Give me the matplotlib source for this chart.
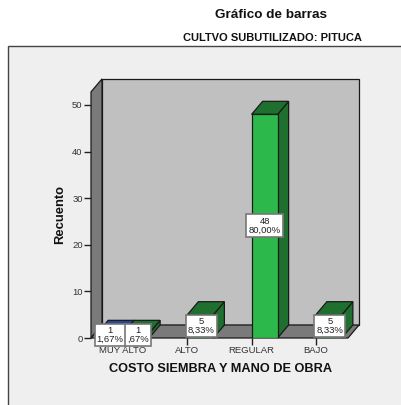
import matplotlib
matplotlib.use("Agg")
import matplotlib.pyplot as plt
from matplotlib.patches import Polygon, Rectangle

plt.rcParams["font.family"] = ["Liberation Sans", "DejaVu Sans"]

# DATA

categorias = ["MUY ALTO", "ALTO", "REGULAR", "BAJO"]
serie_a = [1, None, None, None]
serie_b = [1, 5, 48, 5]
etiquetas_a = ["1\n1,67%", None, None, None]
etiquetas_b = ["1\n,67%", "5\n8,33%", "48\n80,00%", "5\n8,33%"]
ticks_y = [0, 10, 20, 30, 40, 50]

W, H = 402, 405
fig = plt.figure(figsize=(W / 100, H / 100), dpi=100, facecolor="white")


def px(x0, y0, x1, y1):
    return [x0 / W, 1 - y1 / H, (x1 - x0) / W, (y1 - y0) / H]


# marco gris de fondo
bg = fig.add_axes([0, 0, 1, 1])
bg.set_xlim(0, W)
bg.set_ylim(H, 0)
bg.axis("off")
bg.add_patch(Rectangle((8, 46), W, H, fc="#efefef", ec="#444444", lw=1))

# ejes: plano frontal
ax = fig.add_axes(px(91, 105, 348, 338))
ax.set_xlim(-0.5, 3.5)
ax.set_ylim(0, 50)
ax.patch.set_alpha(0)
for s in ax.spines.values():
    s.set_visible(False)

dx = 11 / 64.25
dy = 13 / 4.66
ancho = 26 / 64.25
techo = 55.6


def poly(puntos, color, z=2):
    ax.add_patch(Polygon(puntos, closed=True, fc=color, ec="#1a1a1a", lw=0.9, zorder=z, clip_on=False))


# paredes y suelo
poly([(-0.5 + dx, dy), (3.5 + dx, dy), (3.5 + dx, techo), (-0.5 + dx, techo)], "#c0c0c0", 1)
poly([(-0.5, 0), (-0.5 + dx, dy), (-0.5 + dx, techo), (-0.5, techo - dy)], "#7a7a7a", 1)
poly([(-0.5, 0), (3.5, 0), (3.5 + dx, dy), (-0.5 + dx, dy)], "#7a7a7a", 1)


def barra(x0, v, frente, lado, z):
    x1 = x0 + ancho
    poly([(x1, 0), (x1 + dx, dy), (x1 + dx, v + dy), (x1, v)], lado, z)
    poly([(x0, v), (x1, v), (x1 + dx, v + dy), (x0 + dx, v + dy)], lado, z)
    ax.add_patch(Rectangle((x0, 0), ancho, v, fc=frente, ec="#1a1a1a", lw=0.9, zorder=z))


def caja(xc, yc, txt, z=6):
    ax.text(xc, yc, txt, ha="center", va="center", fontsize=6.8, linespacing=1.05, color="#222222", zorder=z,
            bbox=dict(boxstyle="square,pad=0.22", fc="white", ec="#777777", lw=1.2))


for i, v in enumerate(serie_a):
    if v is not None:
        barra(i - ancho, v, "#2f4aa8", "#2b4596", 3)
for i, v in enumerate(serie_b):
    barra(i, v, "#2db84b", "#1f6f2f", 3 + i)

for i, t in enumerate(etiquetas_a):
    if t is not None:
        caja(i - ancho / 2, 0.65, t)
for i, t in enumerate(etiquetas_b):
    if i == 0:
        caja(i + ancho / 2 + 0.03, 0.65, t, 7)
    elif i == 2:
        caja(i + ancho / 2, 24.1, t, 7)
    else:
        caja(i + ancho / 2 + 0.015, serie_b[i] / 2 + 0.07, t, 7)

ax.set_xticks(range(len(categorias)), categorias, fontsize=6.8, color="#333333")
ax.set_yticks(ticks_y)
ax.tick_params(axis="x", length=5, width=1, pad=1, color="#222222")
ax.tick_params(axis="y", length=5, width=1, pad=1, labelsize=6.8, color="#222222", labelcolor="#333333")
ax.set_xlabel("COSTO SIEMBRA Y MANO DE OBRA", fontsize=9.2, fontweight="bold", color="#111111")
ax.xaxis.set_label_coords((220.5 - 91) / 257, (338 - 369) / 233)
ax.xaxis.label.set_verticalalignment("center")
ax.set_ylabel("Recuento", fontsize=9.4, fontweight="bold", color="#111111")
ax.yaxis.set_label_coords((60 - 91) / 257, (338 - 214) / 233)
ax.yaxis.label.set_verticalalignment("center")

fig.text(271 / W, 1 - 15 / H, "Gráfico de barras", ha="center", va="center", fontsize=9.7, fontweight="bold", color="#111111")
fig.text(272 / W, 1 - 38 / H, "CULTVO SUBUTILIZADO: PITUCA", ha="center", va="center", fontsize=8, fontweight="bold", color="#111111")

fig.savefig("out.png", dpi=100)
